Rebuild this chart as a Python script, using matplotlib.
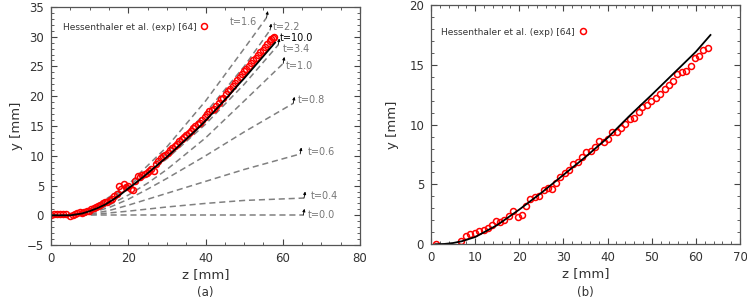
import numpy as np
import matplotlib
matplotlib.use('Agg')
import matplotlib.pyplot as plt
from matplotlib.ticker import MultipleLocator

# ---- panel (a): experiment, model at t=10 and intermediate shapes
z_exp_a = [0.0, 0.8, 1.6, 2.4, 3.2, 4.0, 5.0, 5.6, 6.2, 6.8, 7.4, 8.0, 8.6, 9.2, 9.8,
           10.4, 11.0, 11.6, 12.2, 12.8, 13.4, 14.0, 14.6, 15.2, 15.8, 16.4, 17.0,
           17.6, 18.2, 18.8, 19.4, 20.0, 20.6, 21.2, 21.8, 22.4, 23.0, 23.6, 24.2,
           24.8, 25.4, 26.0, 26.6, 27.2, 27.8, 28.4, 29.0, 29.6, 30.2, 30.8, 31.4,
           32.0, 32.6, 33.2, 33.8, 34.4, 35.0, 35.6, 36.2, 36.8, 37.4, 38.0, 38.6,
           39.2, 39.8, 40.4, 41.0, 41.6, 42.2, 42.8, 43.4, 44.0, 44.6, 45.2, 45.8,
           46.4, 47.0, 47.6, 48.2, 48.8, 49.4, 50.0, 50.6, 51.2, 51.8, 52.4, 53.0,
           53.6, 54.2, 54.8, 55.4, 56.0, 56.6, 57.0, 57.4, 57.8]
y_exp_a = [0.05, 0.2, 0.25, 0.25, 0.3, 0.3, -0.1, 0.0, 0.3, 0.4, 0.5, 0.45, 0.6, 0.7, 0.8,
           1.0, 1.2, 1.4, 1.5, 1.8, 2.0, 2.2, 2.3, 2.5, 2.8, 3.2, 3.5,
           4.9, 4.4, 5.2, 4.7, 4.9, 4.4, 4.3, 5.8, 6.6, 6.5, 6.8, 7.0,
           7.1, 7.5, 7.8, 7.4, 8.6, 9.2, 9.6, 9.9, 10.2, 10.5, 10.9, 11.3,
           11.7, 12.0, 12.4, 12.8, 13.1, 13.5, 13.9, 14.2, 14.6, 15.0, 15.3, 15.5,
           16.0, 16.5, 17.0, 17.6, 17.7, 17.9, 18.3, 18.8, 19.5, 19.7, 20.3, 20.8,
           21.2, 21.7, 22.2, 22.7, 23.2, 23.7, 24.2, 24.6, 25.1, 25.6, 26.0, 26.5,
           26.9, 27.4, 27.8, 28.2, 28.7, 29.3, 29.6, 29.8, 29.9]

z_sim_a = [0, 5, 8, 10, 12, 14, 16, 18, 20, 22, 24, 26, 28, 30, 32, 34, 36, 38, 40,
           42, 44, 46, 48, 50, 52, 54, 56, 58]
y_sim_a = [0, 0, 0.3, 0.7, 1.2, 1.8, 2.6, 3.5, 4.5, 5.5, 6.5, 7.6, 8.7, 9.8, 11.0,
           12.2, 13.4, 14.6, 15.9, 17.3, 18.7, 20.1, 21.6, 23.0, 24.5, 26.0, 27.5, 29.0]

# intermediate shapes (dashed)
shape_labels = ['t=0.0', 't=0.4', 't=0.6', 't=0.8', 't=1.0', 't=3.4', 't=2.2', 't=1.6']
shape_z = [
    [0, 65.3],
    [0, 5, 10, 20, 30, 40, 50, 65.5],
    [0, 5, 10, 15, 20, 30, 40, 50, 64.5],
    [0, 5, 10, 15, 20, 25, 30, 40, 50, 62.7],
    [0, 5, 10, 15, 20, 25, 30, 40, 50, 60.1],
    [0, 5, 10, 20, 30, 40, 50, 58.8],
    [0, 5, 10, 20, 30, 40, 50, 56.7],
    [0, 5, 10, 20, 30, 40, 50, 55.8],
]
shape_y = [
    [0, 0],
    [0, 0, 0.1, 0.7, 1.4, 2.0, 2.5, 2.9],
    [0, 0, 0.2, 0.8, 1.7, 3.7, 5.7, 7.7, 10.3],
    [0, 0, 0.4, 1.3, 2.7, 4.4, 6.2, 10.0, 14.0, 18.8],
    [0, 0, 0.5, 1.7, 3.4, 5.4, 7.7, 13.0, 19.2, 25.5],
    [0, 0, 0.7, 4.4, 9.5, 15.3, 22.0, 28.6],
    [0, 0, 0.8, 4.8, 10.5, 17.2, 25.0, 31.1],
    [0, 0, 0.9, 5.2, 11.5, 19.2, 28.0, 33.2],
]

# ---- panel (b)
z_exp_b = [1.1, 6.9, 7.9, 8.9, 9.9, 10.9, 11.9, 12.8, 13.8, 14.7, 15.6, 16.6, 17.6,
           18.6, 19.6, 20.7, 21.5, 22.5, 23.5, 24.5, 25.5, 26.4, 27.4, 28.4, 29.3,
           30.3, 31.3, 32.2, 33.2, 34.2, 35.2, 36.2, 37.2, 38.1, 39.1, 40.1, 41.1,
           42.1, 43.0, 44.0, 45.0, 46.0, 47.0, 47.9, 48.9, 49.9, 50.9, 51.9, 52.9,
           53.9, 54.8, 55.8, 56.8, 57.8, 58.8, 59.7, 60.7, 61.7, 62.7]
y_exp_b = [0.0, 0.3, 0.7, 0.86, 0.97, 1.1, 1.2, 1.36, 1.6, 1.9, 1.84, 2.0, 2.4,
           2.75, 2.3, 2.45, 3.2, 3.76, 3.93, 4.04, 4.54, 4.73, 4.65, 5.1, 5.65,
           5.99, 6.24, 6.7, 6.85, 7.32, 7.7, 7.77, 8.16, 8.66, 8.58, 8.83, 9.36,
           9.39, 9.75, 10.08, 10.5, 10.53, 11.06, 11.48, 11.67, 11.98, 12.26, 12.56, 12.98,
           13.29, 13.65, 14.23, 14.4, 14.5, 14.87, 15.57, 15.74, 16.24, 16.38]

z_sim_b = [1, 3, 5, 7, 10, 15, 20, 25, 30, 35, 40, 45, 50, 55, 60, 63.3]
y_sim_b = [0, 0.02, 0.1, 0.25, 0.6, 1.6, 2.9, 4.3, 5.8, 7.3, 8.9, 10.75, 12.5, 14.3, 16.1, 17.5]

legend_label = 'Hessenthaler et al. (exp) [64]'
txt_col = '#333333'

fig = plt.figure(figsize=(7.47, 3.0), dpi=100)
ax1 = fig.add_axes([0.0683, 0.183, 0.4137, 0.794])
ax2 = fig.add_axes([0.577, 0.186, 0.4137, 0.797])


def style_axes(ax):
    ax.tick_params(which='both', direction='in', top=True, right=True,
                   colors='#444444', labelcolor=txt_col, labelsize=8.5, pad=5)
    ax.tick_params(which='major', length=4, width=0.8)
    ax.tick_params(which='minor', length=2, width=0.6)
    for s in ax.spines.values():
        s.set_color('#555555')
        s.set_linewidth(0.9)


# (a)
for zz, yy in zip(shape_z, shape_y):
    ax1.plot(zz, yy, '--', color='#808080', lw=1.1, dashes=(4, 2.5))
ax1.plot(z_exp_a, y_exp_a, 'o', mfc='none', mec='red', ms=4.3, mew=1.1, label=legend_label)
ax1.plot(z_sim_a, y_sim_a, '-', color='black', lw=1.3)

# label placement for the shape annotations (left edge / centre of text)
label_pos = [(66.4, 0.0), (67.2, 3.2), (66.4, 10.7), (63.9, 19.3),
             (60.7, 25.0), (60.0, 27.9), (57.4, 31.7), (46.3, 32.5)]
for lab, zz, yy, (tx, ty) in zip(shape_labels, shape_z, shape_y, label_pos):
    ax1.annotate('', xy=(zz[-1] + 0.3, yy[-1] + 1.1), xytext=(zz[-1], yy[-1]),
                 arrowprops=dict(arrowstyle='-|>', color='k', lw=0.6, mutation_scale=4,
                                 shrinkA=0, shrinkB=0))
    ax1.text(tx, ty, lab, fontsize=7, color='#777777', va='center', ha='left')
ax1.text(59.3, 29.8, 't=10.0', fontsize=7, color='black', va='center', ha='left')

ax1.set_xlim(0, 80)
ax1.set_ylim(-5, 35)
ax1.xaxis.set_major_locator(MultipleLocator(20))
ax1.xaxis.set_minor_locator(MultipleLocator(5))
ax1.yaxis.set_major_locator(MultipleLocator(5))
ax1.yaxis.set_minor_locator(MultipleLocator(1))
ax1.set_xlabel('z [mm]', fontsize=9.5, color=txt_col, labelpad=2)
ax1.set_ylabel('y [mm]', fontsize=9.5, color=txt_col, labelpad=3)
style_axes(ax1)
ax1.legend(loc='center left', bbox_to_anchor=(0.026, 0.915), frameon=False, markerfirst=False,
           fontsize=6.5, handlelength=0.8, handletextpad=0.5, labelcolor=txt_col,
           borderaxespad=0)
ax1.text(0.5, -0.20, '(a)', transform=ax1.transAxes, ha='center', va='center',
         fontsize=8.5, color=txt_col)

# (b)
ax2.plot(z_exp_b, y_exp_b, 'o', mfc='none', mec='red', ms=4.3, mew=1.1, label=legend_label)
ax2.plot(z_sim_b, y_sim_b, '-', color='black', lw=1.3)
ax2.set_xlim(0, 70)
ax2.set_ylim(0, 20)
ax2.xaxis.set_major_locator(MultipleLocator(10))
ax2.xaxis.set_minor_locator(MultipleLocator(2))
ax2.yaxis.set_major_locator(MultipleLocator(5))
ax2.yaxis.set_minor_locator(MultipleLocator(1))
ax2.set_xlabel('z [mm]', fontsize=9.5, color=txt_col, labelpad=2)
ax2.set_ylabel('y [mm]', fontsize=9.5, color=txt_col, labelpad=7)
style_axes(ax2)
ax2.legend(loc='center left', bbox_to_anchor=(0.021, 0.887), frameon=False, markerfirst=False,
           fontsize=6.5, handlelength=0.8, handletextpad=0.5, labelcolor=txt_col,
           borderaxespad=0)
ax2.text(0.5, -0.20, '(b)', transform=ax2.transAxes, ha='center', va='center',
         fontsize=8.5, color=txt_col)

fig.savefig('out.png', dpi=100)
